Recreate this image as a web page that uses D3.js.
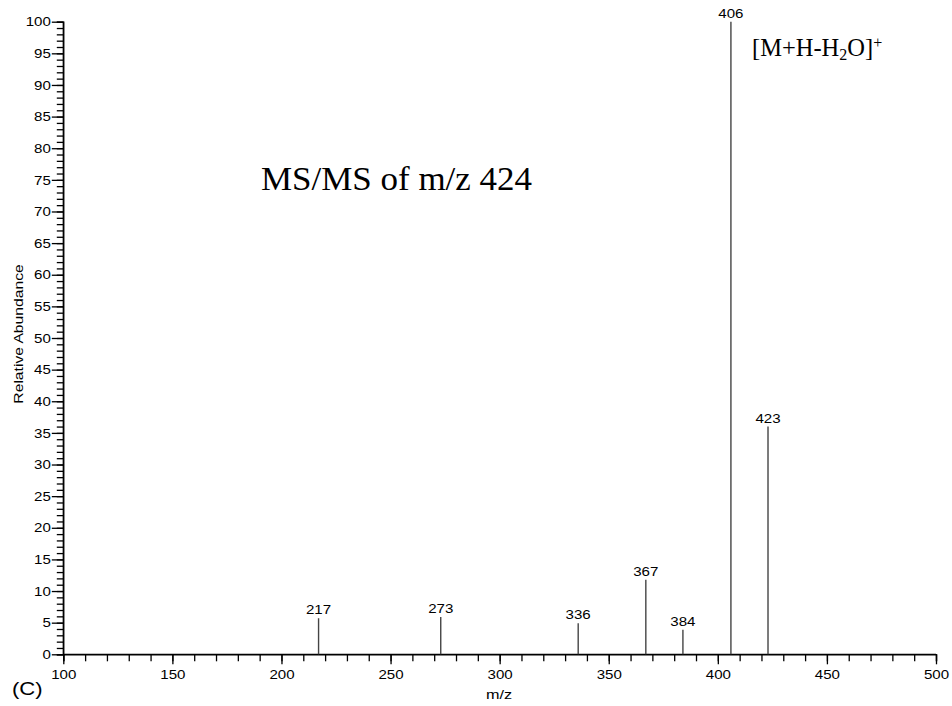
<!DOCTYPE html>
<html>
<head>
<meta charset="utf-8">
<script src="https://cdn.jsdelivr.net/npm/d3@7"></script>
<style>
  html, body { margin: 0; padding: 0; background: #fff; }
  svg { display: block; }
</style>
</head>
<body>
<svg id="chart" width="952" height="706"></svg>
<script>
// Product-ion spectrum: m/z of each fragment and its relative abundance (%)
const peakMz = [217, 273, 336, 367, 384, 406, 423];
const peakAbundance = [5.7, 5.9, 4.9, 11.8, 3.9, 100, 36.0];
const peakLabels = ["217", "273", "336", "367", "384", "406", "423"];

const xMajorTicks = [100, 150, 200, 250, 300, 350, 400, 450, 500];
const yMajorTicks = d3.range(0, 101, 5);

const svg = d3.select("#chart");
const plotLeft = 63.3, plotRight = 936, plotTop = 21.7, plotBottom = 654.3;

const x = d3.scaleLinear().domain([100, 500]).range([plotLeft, plotRight]);
const y = d3.scaleLinear().domain([0, 100]).range([plotBottom, plotTop]);

const sans = "'Liberation Sans', Arial, sans-serif";
const serif = "'Liberation Serif', 'Times New Roman', serif";

// the instrument's sans labels are set slightly wide
function widen(sel, f) {
  sel.each(function () {
    const w = this.getComputedTextLength();
    d3.select(this).attr("textLength", w * f).attr("lengthAdjust", "spacingAndGlyphs");
  });
}
const WIDE = 1.16;

// y axis: minor ticks every 1 %, longer ticks with labels every 5 %
const yMinor = svg.append("g").attr("transform", `translate(${plotLeft},0)`)
  .call(d3.axisLeft(y).tickValues(d3.range(0, 101, 1)).tickSize(6.5).tickFormat(""));
const yMajor = svg.append("g").attr("transform", `translate(${plotLeft},0)`)
  .call(d3.axisLeft(y).tickValues(yMajorTicks).tickSize(11.5).tickPadding(1).tickFormat(d3.format("d")));

// x axis: minor ticks every 10, labelled ticks every 50
const xMinor = svg.append("g").attr("transform", `translate(0,${plotBottom})`)
  .call(d3.axisBottom(x).tickValues(d3.range(100, 501, 10)).tickSize(7).tickFormat(""));
const xMajor = svg.append("g").attr("transform", `translate(0,${plotBottom})`)
  .call(d3.axisBottom(x).tickValues(xMajorTicks).tickSize(10).tickPadding(5).tickFormat(d3.format("d")));

[yMinor, yMajor, xMinor, xMajor].forEach(g => {
  g.select(".domain").attr("stroke", "#000").attr("stroke-width", 1.3);
  g.selectAll(".tick line").attr("stroke", "#000").attr("stroke-width", 1.3);
  g.selectAll(".tick text").attr("fill", "#000").style("font-family", sans).style("font-size", "13px");
});
yMajor.selectAll(".domain").attr("d", `M0,${plotTop}V${plotBottom}`);
xMajor.selectAll(".domain").attr("d", `M${plotLeft},0H${plotRight}`);
widen(yMajor.selectAll(".tick text"), WIDE);
widen(xMajor.selectAll(".tick text"), WIDE);

// spectrum sticks
const peaks = peakMz.map((mz, i) => ({ mz, ab: peakAbundance[i], label: peakLabels[i] }));
svg.append("g").selectAll("line").data(peaks).join("line")
  .attr("x1", d => x(d.mz)).attr("x2", d => x(d.mz))
  .attr("y1", y(0)).attr("y2", d => y(d.ab))
  .attr("stroke", "#444").attr("stroke-width", 1.4);

const peakText = svg.append("g").selectAll("text").data(peaks).join("text")
  .attr("x", d => x(d.mz)).attr("y", d => y(d.ab) - 4)
  .attr("text-anchor", "middle")
  .style("font-family", sans).style("font-size", "13px").attr("fill", "#000")
  .text(d => d.label);
widen(peakText, WIDE);

// axis titles
const xTitle = svg.append("text").attr("x", 499).attr("y", 699).attr("text-anchor", "middle")
  .style("font-family", sans).style("font-size", "13.5px").text("m/z");
widen(xTitle, 1.2);
const yTitle = svg.append("text").attr("transform", "translate(22.5,334) rotate(-90)").attr("text-anchor", "middle")
  .style("font-family", sans).style("font-size", "13.5px").text("Relative Abundance");
widen(yTitle, WIDE);

// panel tag
const tag = svg.append("text").attr("x", 12).attr("y", 695)
  .style("font-family", sans).style("font-size", "19px").text("(C)");
widen(tag, WIDE);

// annotations
svg.append("text").attr("x", 261).attr("y", 190)
  .attr("textLength", 271).attr("lengthAdjust", "spacingAndGlyphs")
  .style("font-family", serif).style("font-size", "33px").text("MS/MS of m/z 424");

const ion = svg.append("text").attr("x", 752).attr("y", 56)
  .style("font-family", serif).style("font-size", "24.5px");
ion.append("tspan").text("[M+H-H");
ion.append("tspan").attr("dy", 3.5).style("font-size", "16px").text("2");
ion.append("tspan").attr("dy", -3.5).text("O]");
ion.append("tspan").attr("dy", -8).style("font-size", "16px").text("+");
</script>
</body>
</html>
